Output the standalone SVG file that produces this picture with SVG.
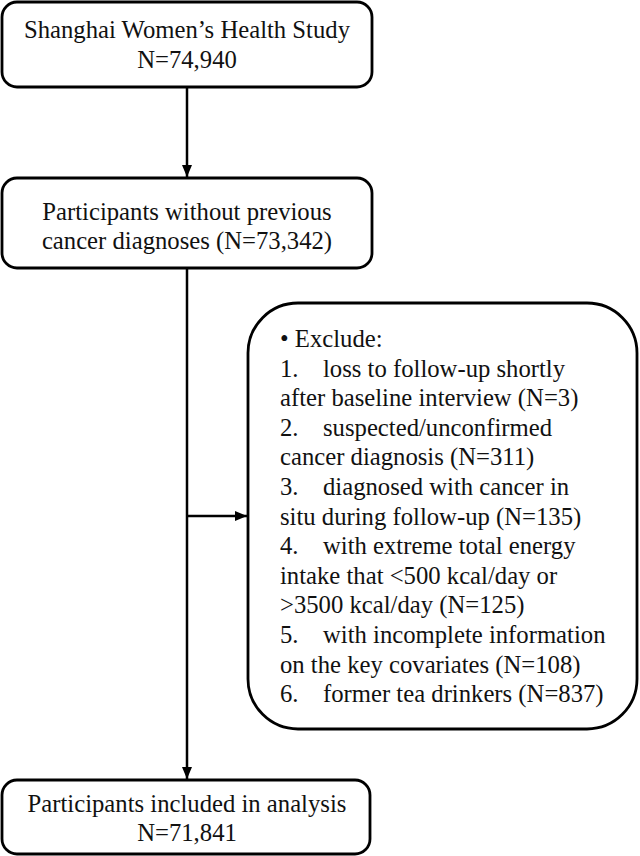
<svg xmlns="http://www.w3.org/2000/svg" width="640" height="856" viewBox="0 0 640 856">
<style>
.box{fill:#fff;stroke:#000;stroke-width:2.8}
.t{font-family:"Liberation Serif","Times New Roman",serif;font-size:24.7px;fill:#111}
.c{text-anchor:middle}
.ln{stroke:#000;stroke-width:2.5;fill:none}
</style>
<defs>
<marker id="ah" viewBox="0 0 12 10" refX="12" refY="5" markerWidth="12" markerHeight="10" markerUnits="userSpaceOnUse" orient="auto">
<path d="M0,0 L12,5 L0,10 z" fill="#000"/>
</marker>
</defs>
<g id="connectors">
<line class="ln" x1="187" y1="87" x2="187" y2="177" marker-end="url(#ah)"/>
<line class="ln" x1="187" y1="268" x2="187" y2="779" marker-end="url(#ah)"/>
<line class="ln" x1="187" y1="516" x2="247" y2="516" marker-end="url(#ah)"/>
</g>
<g id="n1">
<rect class="box" x="2" y="2" width="370" height="85" rx="15"/>
<text class="t c" x="187" y="38">Shanghai Women’s Health Study</text>
<text class="t c" x="187" y="68">N=74,940</text>
</g>
<g id="n2">
<rect class="box" x="2" y="178" width="370" height="90" rx="15"/>
<text class="t c" x="187" y="220">Participants without previous</text>
<text class="t c" x="187" y="249">cancer diagnoses (N=73,342)</text>
</g>
<g id="n3">
<rect class="box" x="248" y="303" width="389" height="426" rx="50"/>
<text class="t" x="280" y="347">• Exclude:</text>
<text class="t" x="280" y="376.6">1.<tspan x="323">loss to follow-up shortly</tspan></text>
<text class="t" x="280" y="406.2">after baseline interview (N=3)</text>
<text class="t" x="280" y="435.8">2.<tspan x="323">suspected/unconfirmed</tspan></text>
<text class="t" x="280" y="465.4">cancer diagnosis (N=311)</text>
<text class="t" x="280" y="495">3.<tspan x="323">diagnosed with cancer in</tspan></text>
<text class="t" x="280" y="524.6">situ during follow-up (N=135)</text>
<text class="t" x="280" y="554.2">4.<tspan x="323">with extreme total energy</tspan></text>
<text class="t" x="280" y="583.8">intake that &lt;500 kcal/day or</text>
<text class="t" x="280" y="613.4">&gt;3500 kcal/day (N=125)</text>
<text class="t" x="280" y="643">5.<tspan x="323">with incomplete information</tspan></text>
<text class="t" x="280" y="672.6">on the key covariates (N=108)</text>
<text class="t" x="280" y="702.2">6.<tspan x="323">former tea drinkers (N=837)</tspan></text>
</g>
<g id="n4">
<rect class="box" x="2" y="780" width="368" height="74" rx="15"/>
<text class="t c" x="187" y="812">Participants included in analysis</text>
<text class="t c" x="187" y="841">N=71,841</text>
</g>
</svg>
